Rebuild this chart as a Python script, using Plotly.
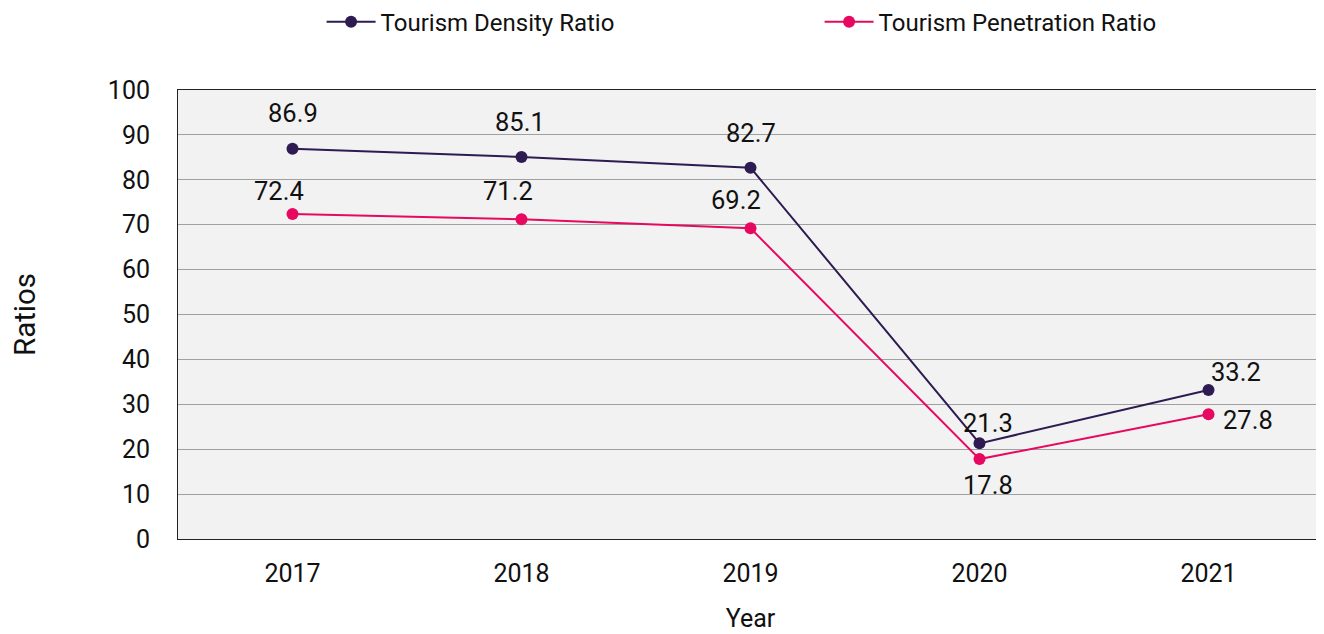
import plotly.graph_objects as go

years = ["2017", "2018", "2019", "2020", "2021"]
density = [86.9, 85.1, 82.7, 21.3, 33.2]
penetration = [72.4, 71.2, 69.2, 17.8, 27.8]
y_ticks = [0, 10, 20, 30, 40, 50, 60, 70, 80, 90, 100]

DENS_COLOR = "#2d1b52"
PEN_COLOR = "#e6095f"

# label offsets in px (style only)
dens_off = [(0, 36), (-2, 35), (0, 35), (8, 20), (27, 18)]
pen_off = [(-14, 23), (-14, 28), (-15, 28), (8, -26), (39, -6)]

fig = go.Figure()
fig.add_trace(go.Scatter(x=years, y=density, mode="lines+markers", name="Tourism Density Ratio",
                         line=dict(color=DENS_COLOR, width=2), marker=dict(size=12, color=DENS_COLOR)))
fig.add_trace(go.Scatter(x=years, y=penetration, mode="lines+markers", name="Tourism Penetration Ratio",
                         line=dict(color=PEN_COLOR, width=2), marker=dict(size=12, color=PEN_COLOR)))

for vals, offs in ((density, dens_off), (penetration, pen_off)):
    for i, (v, (dx, dy)) in enumerate(zip(vals, offs)):
        fig.add_annotation(x=i, y=v, xref="x", yref="y", text=f"{v:.1f}", showarrow=False,
                           xshift=dx, yshift=dy,
                           font=dict(size=25.5, color="#111111", family="Roboto"))

fig.update_layout(
    width=1324, height=634,
    margin=dict(l=170, r=9, t=82, b=103, autoexpand=False),
    paper_bgcolor="white", plot_bgcolor="#f2f2f2",
    font=dict(family="Roboto", size=25, color="#111111"),
    showlegend=True,
    legend=dict(orientation="h", x=0.1254, y=1.151, xanchor="left", yanchor="middle",
                font=dict(size=24, family="Roboto"), itemwidth=49,
                entrywidth=434, entrywidthmode="pixels",
                bgcolor="rgba(0,0,0,0)"),
    xaxis=dict(type="category", title=dict(text="Year", font=dict(size=25), standoff=22), showgrid=False,
               showline=True, linecolor="#222222", linewidth=1, mirror=True,
               ticks="", ticklabelstandoff=12, tickfont=dict(size=25), range=[-0.5, 4.5]),
    yaxis=dict(title=dict(text="Ratios", font=dict(size=29.5), standoff=70), range=[0, 100],
               tickvals=y_ticks, showgrid=True, gridcolor="#a0a0a0", gridwidth=1,
               showline=True, linecolor="#222222", linewidth=1, mirror=False,
               ticks="", ticklabelstandoff=22, tickfont=dict(size=25), zeroline=False),
)
fig.write_html("out.html")
